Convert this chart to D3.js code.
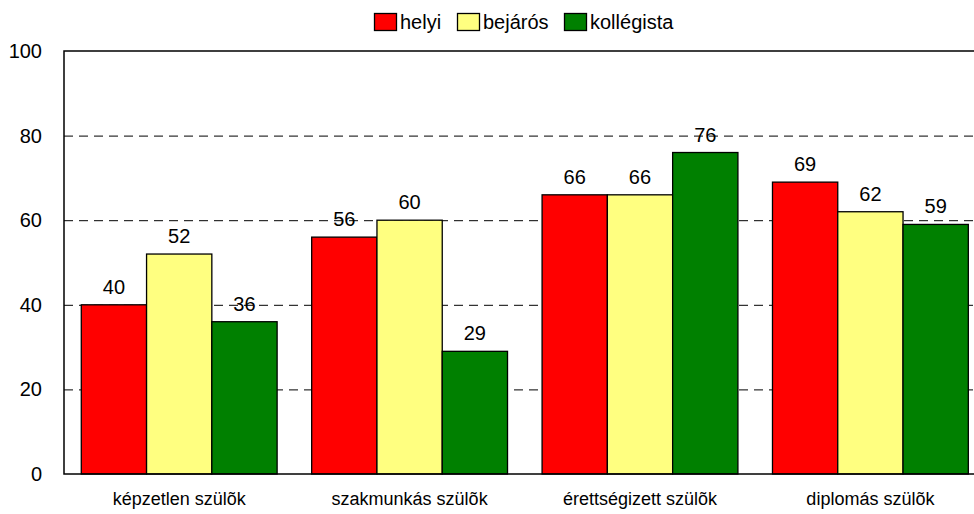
<!DOCTYPE html>
<html>
<head>
<meta charset="utf-8">
<script src="https://cdn.jsdelivr.net/npm/d3@7"></script>
<style>
  body { margin: 0; background: #fff; }
  svg { display: block; font-family: "Liberation Sans", Arial, sans-serif; }
</style>
</head>
<body>
<div id="chart"></div>
<script>

// Data

var categories = ["képzetlen szülõk", "szakmunkás szülõk", "érettségizett szülõk", "diplomás szülõk"];
var seriesNames = ["helyi", "bejárós", "kollégista"];
var seriesColors = ["#ff0000", "#ffff80", "#008000"];
var helyi = [40, 56, 66, 69];
var bejaros = [52, 60, 66, 62];
var kollegista = [36, 29, 76, 59];
var yTicks = [0, 20, 40, 60, 80, 100];

var seriesValues = [helyi, bejaros, kollegista];

// Chart size

var width = 974, height = 514;
var plotLeft = 64, plotRight = 985.6, plotTop = 51, plotBottom = 474;

var svg = d3.select("#chart").append("svg")
    .attr("width", width)
    .attr("height", height);

var x = d3.scaleBand()
    .domain(categories)
    .range([plotLeft, plotRight])
    .paddingInner(0.15)
    .paddingOuter(0.075);

var xs = d3.scaleBand()
    .domain(seriesNames)
    .range([0, x.bandwidth()]);

var y = d3.scaleLinear()
    .domain([0, 100])
    .range([plotBottom, plotTop]);

// Grid lines

svg.append("g")
    .selectAll("line")
    .data(yTicks.filter(function (d) { return d > 0 && d < 100; }))
    .enter().append("line")
    .attr("x1", plotLeft)
    .attr("x2", plotRight)
    .attr("y1", function (d) { return y(d) + 0.5; })
    .attr("y2", function (d) { return y(d) + 0.5; })
    .attr("stroke", "#000")
    .attr("stroke-width", 1)
    .attr("stroke-dasharray", "9,6");

// Bars

var groups = svg.append("g")
    .selectAll("g")
    .data(categories)
    .enter().append("g")
    .attr("transform", function (d) { return "translate(" + x(d) + ",0)"; });

groups.selectAll("rect")
    .data(function (d, i) {
        return seriesNames.map(function (s, j) {
            return { name: s, value: seriesValues[j][i], color: seriesColors[j] };
        });
    })
    .enter().append("rect")
    .attr("x", function (d) { return xs(d.name); })
    .attr("y", function (d) { return y(d.value); })
    .attr("width", xs.bandwidth())
    .attr("height", function (d) { return plotBottom - y(d.value); })
    .style("fill", function (d) { return d.color; })
    .attr("stroke", "#000")
    .attr("stroke-width", 1.3);

// Value labels

groups.selectAll("text")
    .data(function (d, i) {
        return seriesNames.map(function (s, j) {
            return { name: s, value: seriesValues[j][i] };
        });
    })
    .enter().append("text")
    .attr("x", function (d) { return xs(d.name) + xs.bandwidth() / 2; })
    .attr("y", function (d) { return y(d.value) - 11; })
    .attr("text-anchor", "middle")
    .style("font-size", "20px")
    .style("fill", "#000")
    .text(function (d) { return d.value; });

// Plot frame

svg.append("rect")
    .attr("x", plotLeft)
    .attr("y", plotTop)
    .attr("width", plotRight - plotLeft)
    .attr("height", plotBottom - plotTop)
    .attr("fill", "none")
    .attr("stroke", "#000")
    .attr("stroke-width", 1.5);

// Axes

var yAxis = svg.append("g")
    .attr("transform", "translate(" + plotLeft + ",0)")
    .call(d3.axisLeft(y).tickValues(yTicks).tickSize(0).tickPadding(22));

yAxis.select(".domain").remove();
yAxis.selectAll("text")
    .style("font-size", "20px")
    .style("font-family", "Liberation Sans, Arial, sans-serif")
    .attr("fill", "#000");

var xAxis = svg.append("g")
    .attr("transform", "translate(0," + plotBottom + ")")
    .call(d3.axisBottom(x).tickSize(0).tickPadding(18));

xAxis.select(".domain").remove();
xAxis.selectAll("text")
    .style("font-size", "18px")
    .style("font-family", "Liberation Sans, Arial, sans-serif")
    .attr("fill", "#000");

// Legend

var legendX = [374, 457, 564];

var legend = svg.append("g")
    .selectAll("g")
    .data(seriesNames)
    .enter().append("g")
    .attr("transform", function (d, i) { return "translate(" + legendX[i] + ",13)"; });

legend.append("rect")
    .attr("x", 0.5)
    .attr("y", 0.5)
    .attr("width", 22)
    .attr("height", 17)
    .style("fill", function (d, i) { return seriesColors[i]; })
    .attr("stroke", "#000")
    .attr("stroke-width", 1.3);

legend.append("text")
    .attr("x", 26)
    .attr("y", 16)
    .style("font-size", "20px")
    .style("fill", "#000")
    .text(function (d) { return d; });

</script>
</body>
</html>
